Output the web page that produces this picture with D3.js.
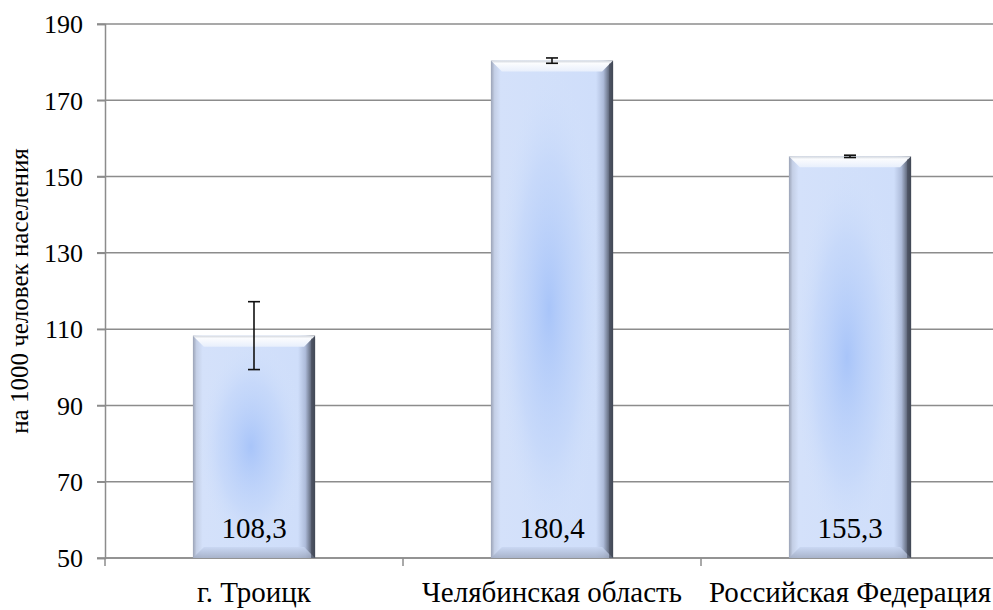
<!DOCTYPE html>
<html>
<head>
<meta charset="utf-8">
<script src="https://cdn.jsdelivr.net/npm/d3@7"></script>
</head>
<body style="margin:0">
<svg id="fig" width="993" height="610"></svg>
<script>
// Rates per 1000 population by territory
const categories = ["г. Троицк", "Челябинская область", "Российская Федерация"];
const values = [108.3, 180.4, 155.3];
const errors = [8.9, 0.7, 0.3];
const yTicks = [50, 70, 90, 110, 130, 150, 170, 190];
const valueLabels = ["108,3", "180,4", "155,3"];
const yTitle = "на 1000 человек населения";

const FONT = "Times New Roman";
const svg = d3.select("#fig");
const margin = { left: 105, top: 24, bottom: 558, right: 999 };

const x = d3.scaleBand()
  .domain(categories)
  .range([margin.left, margin.right])
  .paddingInner(0.59)
  .paddingOuter(0.295);

const xOuter = d3.scaleBand()
  .domain(categories)
  .range([margin.left, margin.right])
  .padding(0);

const y = d3.scaleLinear().domain([50, 190]).range([margin.bottom, margin.top]);

const defs = svg.append("defs");

// Horizontal shading: soft grey left edge, light body, dark right edge
const hg = defs.append("linearGradient").attr("id", "barSide").attr("x1", 0).attr("x2", 1).attr("y1", 0).attr("y2", 0);
[[0, "#9ba3b6"], [0.03, "#c4cfe6"], [0.08, "#d4e1fa"], [0.86, "#cfdefa"], [0.92, "#aebcda"], [0.965, "#666f82"], [1, "#3c424f"]]
  .forEach(([o, c]) => hg.append("stop").attr("offset", o).attr("stop-color", c));

// Soft blue glow in the centre of each bar
const rg = defs.append("radialGradient").attr("id", "barGlow").attr("cx", 0.5).attr("cy", 0.5).attr("r", 0.5);
[[0, "#a6c3f9", 0.95], [0.6, "#bcd2fa", 0.5], [1, "#d6e4fb", 0]]
  .forEach(([o, c, a]) => rg.append("stop").attr("offset", o).attr("stop-color", c).attr("stop-opacity", a));

const topG = defs.append("linearGradient").attr("id", "barTop").attr("x1", 0).attr("x2", 0).attr("y1", 0).attr("y2", 1);
[[0, "#cfd4dc"], [0.25, "#fbfcfe"], [1, "#e8effc"]]
  .forEach(([o, c]) => topG.append("stop").attr("offset", o).attr("stop-color", c));

const botG = defs.append("linearGradient").attr("id", "barBottom").attr("x1", 0).attr("x2", 0).attr("y1", 0).attr("y2", 1);
[[0, "#c8d6f2"], [1, "#a1acc3"]]
  .forEach(([o, c]) => botG.append("stop").attr("offset", o).attr("stop-color", c));

// Grid lines
svg.append("g")
  .selectAll("line")
  .data(yTicks)
  .join("line")
  .attr("x1", margin.left - 8)
  .attr("x2", margin.right)
  .attr("y1", d => y(d))
  .attr("y2", d => y(d))
  .attr("stroke", "#8c8c8c")
  .attr("stroke-width", 1.5);

// Y axis
const yAxis = svg.append("g")
  .attr("transform", `translate(${margin.left},0)`)
  .call(d3.axisLeft(y).tickValues(yTicks).tickSize(8).tickPadding(14).tickFormat(d3.format("d")));
yAxis.attr("font-family", FONT).attr("font-size", 26);
yAxis.select(".domain").attr("stroke", "#8c8c8c").attr("stroke-width", 1.5);
yAxis.selectAll(".tick line").attr("stroke", "#8c8c8c").attr("stroke-width", 1.5);
yAxis.selectAll(".tick text").attr("fill", "#000").attr("dy", "0.34em");

// X axis with ticks at category boundaries
const xAxisG = svg.append("g");
xAxisG.append("line")
  .attr("x1", margin.left).attr("x2", margin.right)
  .attr("y1", y(50)).attr("y2", y(50))
  .attr("stroke", "#8c8c8c").attr("stroke-width", 1.5);
xAxisG.selectAll("line.tk")
  .data(categories)
  .join("line")
  .attr("class", "tk")
  .attr("x1", d => xOuter(d)).attr("x2", d => xOuter(d))
  .attr("y1", y(50)).attr("y2", y(50) + 8)
  .attr("stroke", "#8c8c8c").attr("stroke-width", 1.5);
xAxisG.selectAll("text")
  .data(categories)
  .join("text")
  .attr("x", d => x(d) + x.bandwidth() / 2)
  .attr("y", 602)
  .attr("text-anchor", "middle")
  .attr("font-family", FONT)
  .attr("font-size", 29)
  .text(d => d);

// Bars
const bw = x.bandwidth();
const bev = 11;
const bars = svg.append("g").selectAll("g").data(categories).join("g");

bars.append("rect")
  .attr("x", d => x(d))
  .attr("y", (d, i) => y(values[i]))
  .attr("width", bw)
  .attr("height", (d, i) => y(50) - y(values[i]))
  .attr("fill", "url(#barSide)");

bars.append("rect")
  .attr("x", d => x(d) + 4)
  .attr("y", (d, i) => y(values[i]) + 4)
  .attr("width", bw - 14)
  .attr("height", (d, i) => y(50) - y(values[i]) - 8)
  .attr("fill", "url(#barGlow)");

bars.append("path")
  .attr("d", (d, i) => {
    const x0 = x(d), x1 = x0 + bw, t = y(values[i]);
    return `M${x0},${t}L${x1},${t}L${x1 - bev},${t + bev}L${x0 + bev},${t + bev}Z`;
  })
  .attr("fill", "url(#barTop)");

bars.append("path")
  .attr("d", (d, i) => {
    const x0 = x(d), x1 = x0 + bw, b = y(50);
    return `M${x0},${b}L${x1},${b}L${x1 - bev},${b - bev}L${x0 + bev},${b - bev}Z`;
  })
  .attr("fill", "url(#barBottom)")
  .attr("opacity", 0.85);

// Right edge darkening over the bevels
bars.append("rect")
  .attr("x", d => x(d) + bw - 4)
  .attr("y", (d, i) => y(values[i]) + 3)
  .attr("width", 4)
  .attr("height", (d, i) => y(50) - y(values[i]) - 3)
  .attr("fill", "#454b59")
  .attr("opacity", 0.65);

// Value labels inside the bars
bars.append("text")
  .attr("x", d => x(d) + bw / 2)
  .attr("y", 538)
  .attr("text-anchor", "middle")
  .attr("font-family", FONT)
  .attr("font-size", 29)
  .text((d, i) => valueLabels[i]);

// Error bars
const eb = svg.append("g").selectAll("g").data(categories).join("g")
  .attr("stroke", "#111").attr("stroke-width", 1.6);
eb.append("line")
  .attr("x1", d => x(d) + bw / 2).attr("x2", d => x(d) + bw / 2)
  .attr("y1", (d, i) => y(values[i] + errors[i]))
  .attr("y2", (d, i) => y(values[i] - errors[i]));
eb.append("line")
  .attr("x1", d => x(d) + bw / 2 - 6).attr("x2", d => x(d) + bw / 2 + 6)
  .attr("y1", (d, i) => y(values[i] + errors[i]))
  .attr("y2", (d, i) => y(values[i] + errors[i]));
eb.append("line")
  .attr("x1", d => x(d) + bw / 2 - 6).attr("x2", d => x(d) + bw / 2 + 6)
  .attr("y1", (d, i) => y(values[i] - errors[i]))
  .attr("y2", (d, i) => y(values[i] - errors[i]));

// Y axis title
svg.append("text")
  .attr("transform", `translate(28,${(y(50) + y(190)) / 2}) rotate(-90)`)
  .attr("text-anchor", "middle")
  .attr("font-family", FONT)
  .attr("font-size", 25)
  .text(yTitle);
</script>
</body>
</html>
